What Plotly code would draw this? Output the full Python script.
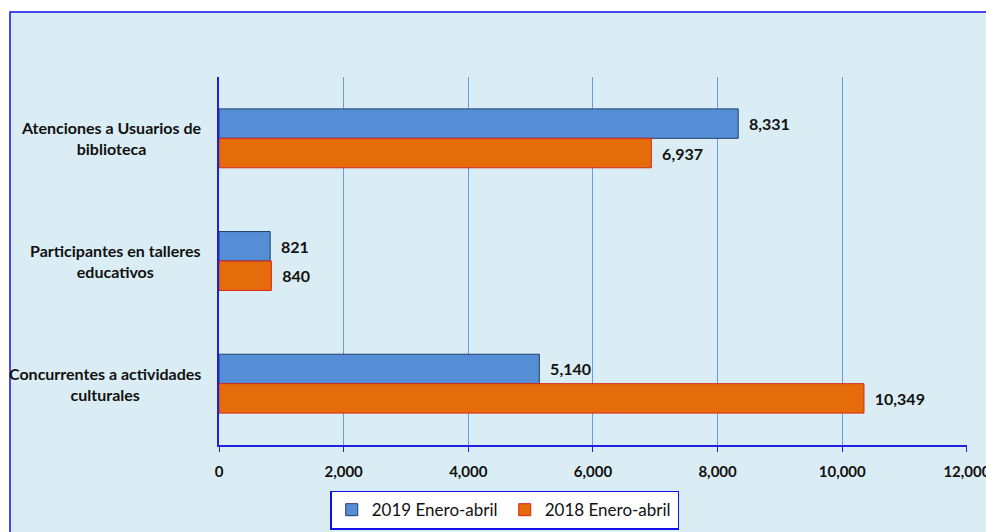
import plotly.graph_objects as go

categories = [
    'Atenciones a Usuarios de<br>biblioteca',
    'Participantes en talleres<br>educativos',
    'Concurrentes a actividades<br>culturales',
]
values_2019 = [8331, 821, 5140]
values_2018 = [6937, 840, 10349]
series_names = ['2019 Enero-abril', '2018 Enero-abril']
x_ticks = [0, 2000, 4000, 6000, 8000, 10000, 12000]

font_fam = 'Lato, Open Sans, sans-serif'
pad = '\u00a0\u00a0'

fig = go.Figure()

fig.add_trace(go.Bar(
    y=categories, x=values_2019, name=series_names[0], orientation='h',
    marker=dict(color='#558ED5', line=dict(color='#1F3F6E', width=1)),
    text=[pad + f'{v:,}' for v in values_2019], textposition='outside',
    textfont=dict(family=font_fam, size=16, color='#111111', weight='bold'),
    cliponaxis=False,
))
fig.add_trace(go.Bar(
    y=categories, x=values_2018, name=series_names[1], orientation='h',
    marker=dict(color='#E46C0A', line=dict(color='#D9261C', width=1)),
    text=[pad + f'{v:,}' for v in values_2018], textposition='outside',
    textfont=dict(family=font_fam, size=16, color='#111111', weight='bold'),
    cliponaxis=False,
))

# category labels as centred annotations (tick labels would be right-aligned)
for cat in categories:
    fig.add_annotation(
        text=cat, x=0, xref='paper', y=cat, yref='y',
        xanchor='right', xshift=-16, align='center', showarrow=False,
        font=dict(family=font_fam, size=16, color='#111111', weight='bold'),
    )

# light blue chart area with blue frame
fig.add_shape(type='rect', xref='paper', yref='paper',
              x0=-0.2794, x1=1.2, y0=-0.3, y1=1.1766,
              fillcolor='#DBEDF4', line=dict(color='#1010E8', width=1.5),
              layer='below')

fig.update_layout(
    width=986, height=532,
    margin=dict(l=219, r=19, t=77, b=87, autoexpand=False),
    paper_bgcolor='white',
    plot_bgcolor='white',
    barmode='group',
    bargap=0.52,
    bargroupgap=0,
    font=dict(family=font_fam, color='#111111'),
    showlegend=True,
    legend=dict(
        orientation='h', x=0.382, y=-0.177, xanchor='center', yanchor='middle',
        bgcolor='white', bordercolor='#1010E8', borderwidth=1.5,
        font=dict(family=font_fam, size=17, color='#111111'),
        entrywidth=128,
    ),
    xaxis=dict(
        range=[0, 12002], tickvals=x_ticks, tickformat=',',
        automargin=False, ticklabeloverflow='allow',
        showgrid=True, gridcolor='#6A9BE0', gridwidth=1,
        showline=True, linecolor='#2020E0', linewidth=1.5,
        ticks='outside', ticklen=5, tickcolor='#2020E0',
        ticklabelstandoff=7,
        tickfont=dict(family=font_fam, size=15, color='#111111', weight='bold'),
        zeroline=False,
    ),
    yaxis=dict(
        autorange='reversed', automargin=False,
        showline=True, linecolor='#2020E0', linewidth=1.5,
        ticks='', showticklabels=False,
    ),
)

fig.write_html(
    'out.html',
    config={'displayModeBar': False},
    post_script="document.body.style.margin='0';document.body.style.overflow='hidden';",
)
